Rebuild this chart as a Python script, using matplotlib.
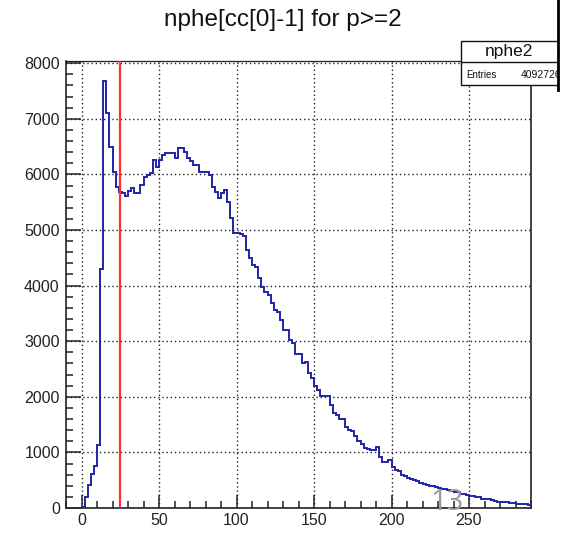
import numpy as np
import matplotlib
matplotlib.use("Agg")
import matplotlib.pyplot as plt
from matplotlib.ticker import MultipleLocator
from matplotlib.patches import Rectangle
from matplotlib.lines import Line2D

# ---- data ----
title = "nphe[cc[0]-1] for p>=2"
hist_name = "nphe2"
entries_text = "4092726"
bin_lo, bin_hi, bin_w = -10, 290, 2
cut_value = 25
counts_below_zero = [0, 0, 0, 0, 0]
counts = [
    20, 200, 410, 610, 760, 1130, 4290, 7680, 7100, 6490,
    6050, 5780, 5690, 5660, 5610, 5710, 5750, 5670, 5660, 5810,
    5960, 5990, 6020, 6260, 6140, 6260, 6350, 6380, 6380, 6380,
    6290, 6470, 6470, 6410, 6290, 6250, 6170, 6170, 6050, 6050,
    6050, 5990, 5780, 5690, 5570, 5660, 5720, 5510, 5220, 4940,
    4940, 4920, 4900, 4640, 4490, 4370, 4340, 4130, 3980, 3890,
    3830, 3680, 3570, 3520, 3380, 3210, 3210, 3020, 2960, 2770,
    2770, 2600, 2630, 2420, 2330, 2200, 2120, 2010, 2010, 2010,
    1850, 1700, 1670, 1600, 1600, 1450, 1400, 1390, 1290, 1210,
    1150, 1080, 1070, 1040, 1040, 1100, 910, 830, 830, 860,
    730, 680, 660, 600, 580, 540, 520, 500, 480, 450,
    440, 420, 400, 390, 370, 360, 340, 340, 320, 300,
    290, 280, 260, 250, 230, 220, 210, 200, 190, 160,
    160, 170, 140, 130, 110, 110, 100, 100, 90, 85,
    75, 70, 70, 65, 60,
]
x_major, x_minor = 50, 10
y_major, y_minor = 1000, 200
y_max = 8045

values = np.array(counts_below_zero + counts, dtype=float)
edges = np.arange(bin_lo, bin_hi + bin_w / 2, bin_w)

plt.rcParams['font.family'] = ['Liberation Sans', 'DejaVu Sans']

W, H = 562, 534
fig = plt.figure(figsize=(W / 100, H / 100), dpi=100)
L, R, T, B = 66, 531, 60.7, 508
ax = fig.add_axes([L / W, 1 - B / H, (R - L) / W, (B - T) / H])

ax.stairs(values, edges, color='#2323a8', linewidth=1.4, baseline=0, zorder=3)
ax.axvline(cut_value, color='#ff3030', linewidth=1.6, zorder=4)

ax.set_xlim(bin_lo, bin_hi)
ax.set_ylim(0, y_max)

ax.xaxis.set_major_locator(MultipleLocator(x_major))
ax.xaxis.set_minor_locator(MultipleLocator(x_minor))
ax.yaxis.set_major_locator(MultipleLocator(y_major))
ax.yaxis.set_minor_locator(MultipleLocator(y_minor))

ax.grid(True, which='major', color='#222222', linestyle=(0, (1, 2)), linewidth=1.0, zorder=1)

ax.tick_params(axis='both', which='both', direction='in', top=False, right=False,
               color='#222222', width=1.1, labelsize=11.5, labelcolor='#222222')
ax.tick_params(axis='x', which='major', length=9.5, pad=3.5)
ax.tick_params(axis='x', which='minor', length=5)
ax.tick_params(axis='y', which='major', length=11, pad=4.5)
ax.tick_params(axis='y', which='minor', length=5)

for side, sp in ax.spines.items():
    sp.set_color('#222222')
    sp.set_linewidth(1.2 if side in ('left', 'bottom', 'right') else 0.9)

# title
fig.text(0.504, 0.963, title, ha='center', va='center', fontsize=17.5, color='#111111')

# stats box (clipped at right)
bx0, bx1 = 461, 575
by0, bmid, by1 = 41, 61.7, 85
fig.patches.append(Rectangle((bx0 / W, 1 - by1 / H), (bx1 - bx0) / W, (by1 - by0) / H,
                             transform=fig.transFigure, facecolor='white',
                             edgecolor='#111111', linewidth=1.0, zorder=5))
fig.lines.append(Line2D([bx0 / W, bx1 / W], [1 - bmid / H, 1 - bmid / H],
                        transform=fig.transFigure, color='#111111', linewidth=1.0, zorder=6))
fig.text(509 / W, 1 - 51.5 / H, hist_name, ha='center', va='center', fontsize=12.5,
         color='#111111', zorder=7)
fig.text(466.5 / W, 1 - 74.5 / H, "Entries", ha='left', va='center', fontsize=7,
         color='#111111', zorder=7)
fig.text(520.5 / W, 1 - 74.5 / H, entries_text, ha='left', va='center', fontsize=7.5,
         color='#111111', zorder=7)

# right border artifact
fig.patches.append(Rectangle((559 / W, 0), 10 / W, 1, transform=fig.transFigure,
                             facecolor='white', edgecolor='none', zorder=8))
fig.lines.append(Line2D([558 / W, 558 / W], [1 - 90 / H, 1.0], transform=fig.transFigure,
                        color='#000000', linewidth=2.0, zorder=9))

# page-number overlay
fig.text(447 / W, 1 - 502 / H, "13", ha='center', va='center', fontsize=21,
         color='#9a9a9a', family=['Open Sans', 'DejaVu Sans'], zorder=10)

fig.savefig("out.png", dpi=100)
